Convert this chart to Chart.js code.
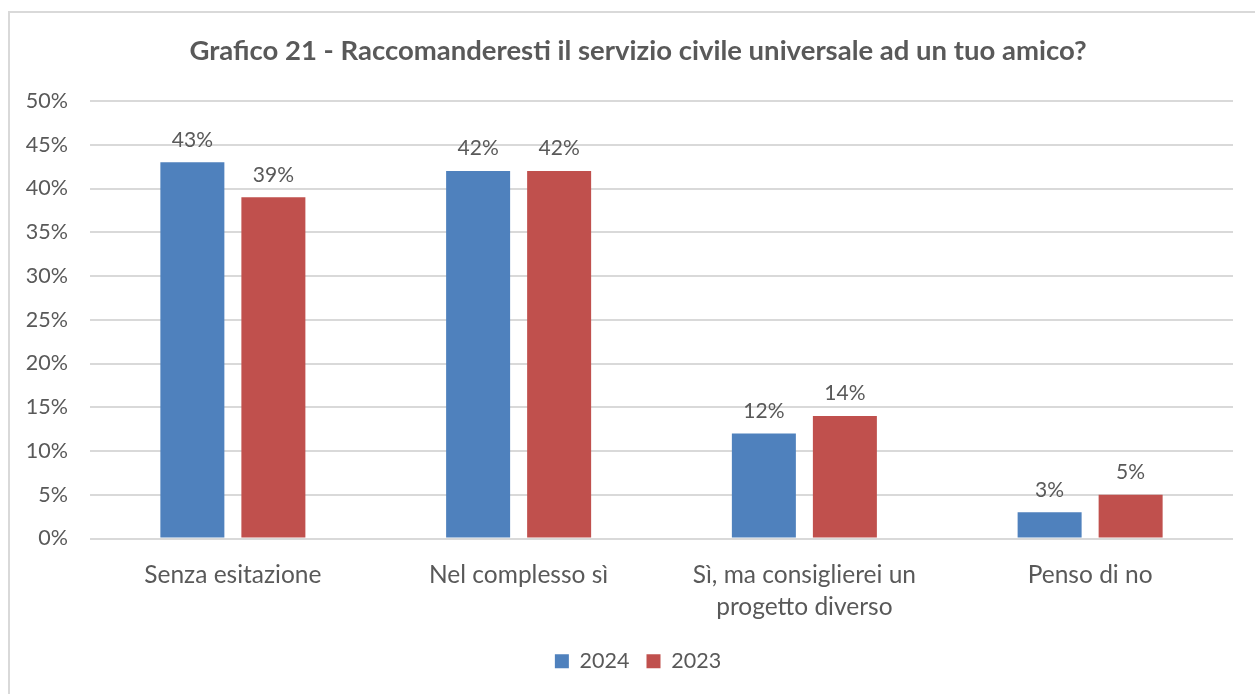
<!DOCTYPE html>
<html>
<head>
<meta charset="utf-8">
<script src="https://cdn.jsdelivr.net/npm/chart.js@4.4.1/dist/chart.umd.min.js"></script>
<style>
  html, body { margin: 0; padding: 0; background: #fff; }
  #frame {
    position: absolute; left: 8px; top: 11px; width: 1260px; height: 700px;
    border-left: 2px solid #D9D9D9; border-top: 2px solid #D9D9D9;
  }
  #wrap { position: absolute; left: 0; top: 0; width: 1255px; height: 694px; }
</style>
</head>
<body>
<div id="frame"></div>
<div id="wrap"><canvas id="c" width="1255" height="694"></canvas></div>
<script>
const categories = [
  "Senza esitazione",
  "Nel complesso sì",
  ["Sì, ma consiglierei un", "progetto diverso"],
  "Penso di no"
];
const seriesNames = ["2024", "2023"];
const values2024 = [43, 42, 12, 3];
const values2023 = [39, 42, 14, 5];
const yTicks = [0, 5, 10, 15, 20, 25, 30, 35, 40, 45, 50];

const TEXT = "#595959";
const FONT = "Lato, 'Open Sans', sans-serif";

// Draws the percentage value above each bar
const valueLabels = {
  id: "valueLabels",
  afterDatasetsDraw(chart) {
    const ctx = chart.ctx;
    ctx.save();
    ctx.font = "21px " + FONT;
    ctx.fillStyle = TEXT;
    ctx.textAlign = "center";
    ctx.textBaseline = "bottom";
    chart.data.datasets.forEach((ds, i) => {
      chart.getDatasetMeta(i).data.forEach((bar, j) => {
        ctx.fillText(ds.data[j] + "%", bar.x, bar.y - 12);
      });
    });
    ctx.restore();
  }
};

new Chart(document.getElementById("c"), {
  type: "bar",
  data: {
    labels: categories,
    datasets: [
      { label: seriesNames[0], data: values2024, backgroundColor: "#4F81BD" },
      { label: seriesNames[1], data: values2023, backgroundColor: "#C0504D" }
    ]
  },
  options: {
    responsive: false,
    animation: false,
    layout: { padding: { left: 25, right: 4, top: 0, bottom: 12 } },
    categoryPercentage: 0.567,
    barPercentage: 0.79,
    plugins: {
      title: {
        display: true,
        text: "Grafico 21 - Raccomanderesti il servizio civile universale ad un tuo amico?",
        color: TEXT,
        font: { family: FONT, size: 27.5, weight: "bold" },
        padding: { top: 35, bottom: 33 }
      },
      legend: {
        position: "bottom",
        labels: {
          color: TEXT,
          font: { family: FONT, size: 21.5 },
          boxWidth: 14, boxHeight: 14, padding: 17
        }
      },
      tooltip: { enabled: false }
    },
    scales: {
      x: {
        afterFit(scale) { scale.height = 95; },
        grid: { display: false, drawTicks: false },
        border: { display: false },
        ticks: {
          color: TEXT,
          font: { family: FONT, size: 24.5, lineHeight: 1.3 },
          padding: 21,
          maxRotation: 0
        }
      },
      y: {
        min: 0, max: 50,
        afterBuildTicks(scale) { scale.ticks = yTicks.map(v => ({ value: v })); },
        afterFit(scale) { scale.width = 65; },
        grid: { color: "#D9D9D9", lineWidth: 2, drawTicks: false },
        border: { display: false },
        ticks: {
          color: TEXT,
          font: { family: FONT, size: 21.5 },
          padding: 22,
          callback: v => v + "%"
        }
      },
      // empty right-hand margin of the plot area
      yRight: {
        position: "right",
        min: 0, max: 50,
        afterFit(scale) { scale.width = 18; },
        grid: { display: false, drawTicks: false },
        border: { display: false },
        ticks: { display: false }
      }
    }
  },
  plugins: [valueLabels]
});
</script>
</body>
</html>
